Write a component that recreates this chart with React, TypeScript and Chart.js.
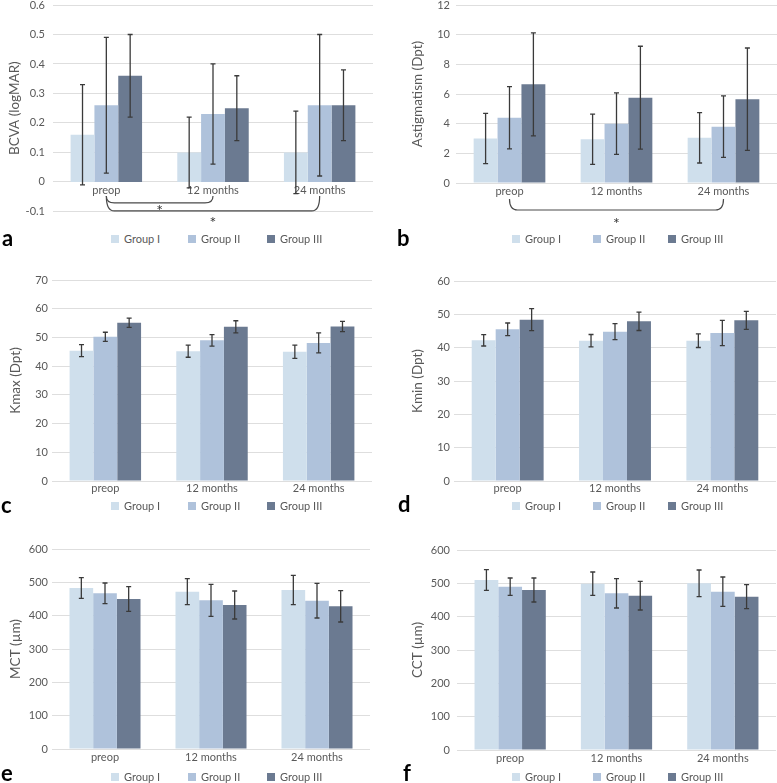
import React, { useEffect, useRef } from 'react';
import { Chart, registerables } from 'chart.js';

Chart.register(...registerables);

// ---------- data ----------
const categories = ['preop', '12 months', '24 months'];
const groups = ['Group I', 'Group II', 'Group III'];
const groupColors = ['#cfdfec', '#afc2db', '#6b7a91'];

// means[group][timepoint], sds[group][timepoint]
const bcvaMean = [[0.16, 0.10, 0.10], [0.26, 0.23, 0.26], [0.36, 0.25, 0.26]];
const bcvaSD = [[0.17, 0.12, 0.14], [0.23, 0.17, 0.24], [0.14, 0.11, 0.12]];
const bcvaAxis = [-0.1, 0.6, 0.1];
const bcvaBrackets = [[0, 1], [0, 2]];

const astigMean = [[3.0, 2.95, 3.05], [4.4, 4.0, 3.8], [6.65, 5.75, 5.65]];
const astigSD = [[1.7, 1.7, 1.7], [2.1, 2.07, 2.07], [3.47, 3.47, 3.45]];
const astigAxis = [0, 12, 2];
const astigBrackets = [[0, 2]];

const kmaxMean = [[45.4, 45.2, 45.0], [50.2, 49.0, 48.1], [55.1, 53.7, 53.8]];
const kmaxSD = [[2.1, 2.1, 2.3], [1.6, 2.0, 3.5], [1.6, 2.1, 1.8]];
const kmaxAxis = [0, 70, 10];

const kminMean = [[42.2, 42.1, 42.1], [45.5, 44.8, 44.4], [48.4, 47.9, 48.2]];
const kminSD = [[1.7, 1.85, 2.05], [1.9, 2.4, 3.8], [3.3, 2.75, 2.7]];
const kminAxis = [0, 60, 10];

const mctMean = [[483, 472, 477], [467, 446, 445], [450, 432, 428]];
const mctSD = [[31, 39, 44], [31, 48, 52], [37, 42, 47]];
const mctAxis = [0, 600, 100];

const cctMean = [[510, 499, 500], [490, 470, 475], [480, 463, 460]];
const cctSD = [[31, 35, 40], [26, 44, 44], [36, 43, 36]];
const cctAxis = [0, 600, 100];

// ---------- styling ----------
const FONT = 'Lato, "Open Sans", sans-serif';
const TEXT = '#595959';
const LEGEND_X_L = [111, 188, 267];
const LEGEND_X_R = [512, 593, 668];

type PanelCfg = {
  means: number[][];
  sds: number[][];
  axis: number[];
  decimals: number;
  title: string;
  side: 'L' | 'R';
  left: number;
  right: number;
  top: number;
  bottom: number;
  tickPad: number;
  titleX: number;
  catPad: number;
  xAtZero?: boolean;
  extraBottom?: number;
  brackets?: number[][];
  bracketGeom?: number[][]; // [hookOffset, lineOffset, starOffset] in px below base line
  legendY: number;
  letter: string;
  letterX: number;
  letterBaseline: number;
};

const panels: PanelCfg[] = [
  {
    means: bcvaMean, sds: bcvaSD, axis: bcvaAxis, decimals: 1, title: 'BCVA (logMAR)', side: 'L',
    left: 53, right: 373, top: 5, bottom: 212, tickPad: 8, titleX: 15, catPad: 2, xAtZero: true,
    extraBottom: 14,
    brackets: bcvaBrackets, bracketGeom: [[14, 21, 25.5], [14, 29, 37]],
    legendY: 239, letter: 'a', letterX: 2, letterBaseline: 246,
  },
  {
    means: astigMean, sds: astigSD, axis: astigAxis, decimals: 0, title: 'Astigmatism (Dpt)', side: 'R',
    left: 456, right: 777, top: 5, bottom: 183, tickPad: 6, titleX: 418, catPad: 2,
    extraBottom: 30,
    brackets: astigBrackets, bracketGeom: [[16, 27, 37]],
    legendY: 239, letter: 'b', letterX: 397, letterBaseline: 246,
  },
  {
    means: kmaxMean, sds: kmaxSD, axis: kmaxAxis, decimals: 0, title: 'Kmax (Dpt)', side: 'L',
    left: 52, right: 372, top: 280, bottom: 481, tickPad: 4, titleX: 16, catPad: 1,
    legendY: 506, letter: 'c', letterX: 1, letterBaseline: 513,
  },
  {
    means: kminMean, sds: kminSD, axis: kminAxis, decimals: 0, title: 'Kmin (Dpt)', side: 'R',
    left: 454, right: 776, top: 281, bottom: 481, tickPad: 4, titleX: 418, catPad: 1,
    legendY: 506, letter: 'd', letterX: 398, letterBaseline: 512,
  },
  {
    means: mctMean, sds: mctSD, axis: mctAxis, decimals: 0, title: 'MCT (µm)', side: 'L',
    left: 52, right: 370, top: 549, bottom: 749, tickPad: 4, titleX: 16, catPad: 2,
    legendY: 777, letter: 'e', letterX: 1, letterBaseline: 781,
  },
  {
    means: cctMean, sds: cctSD, axis: cctAxis, decimals: 0, title: 'CCT (µm)', side: 'R',
    left: 457, right: 776, top: 550, bottom: 750, tickPad: 7, titleX: 418, catPad: 2,
    legendY: 777, letter: 'f', letterX: 403, letterBaseline: 781,
  },
];

function geometry(cfg: PanelCfg) {
  const canvasLeft = cfg.side === 'L' ? 0 : 390;
  const canvasWidth = cfg.side === 'L' ? 390 : 387;
  const canvasTop = cfg.top - 15;
  const axisSpace = cfg.xAtZero ? 0 : 20;
  const extra = cfg.extraBottom ?? 0;
  const canvasHeight = cfg.bottom - canvasTop + axisSpace + extra;
  return { canvasLeft, canvasWidth, canvasTop, canvasHeight, extra };
}

function makeErrorPlugin(sds: number[][]) {
  return {
    id: 'errorBars',
    afterDatasetsDraw(chart: any) {
      const ctx = chart.ctx;
      const y = chart.scales.y;
      ctx.save();
      ctx.strokeStyle = '#3a3a3a';
      ctx.lineWidth = 1.3;
      chart.data.datasets.forEach((ds: any, i: number) => {
        const meta = chart.getDatasetMeta(i);
        meta.data.forEach((el: any, j: number) => {
          const v = ds.data[j] as number;
          const e = sds[i][j];
          const x = el.x;
          const yt = y.getPixelForValue(v + e);
          const yb = y.getPixelForValue(v - e);
          ctx.beginPath();
          ctx.moveTo(x, yt);
          ctx.lineTo(x, yb);
          ctx.moveTo(x - 2.5, yt);
          ctx.lineTo(x + 2.5, yt);
          ctx.moveTo(x - 2.5, yb);
          ctx.lineTo(x + 2.5, yb);
          ctx.stroke();
        });
      });
      ctx.restore();
    },
  };
}

function makeBracketPlugin(cfg: PanelCfg) {
  return {
    id: 'brackets',
    afterDraw(chart: any) {
      if (!cfg.brackets || !cfg.bracketGeom) return;
      const ctx = chart.ctx;
      const xs = chart.scales.x;
      const base = cfg.xAtZero ? chart.scales.y.getPixelForValue(0) : chart.chartArea.bottom;
      ctx.save();
      ctx.strokeStyle = '#4a4a4a';
      ctx.lineWidth = 1.2;
      ctx.fillStyle = '#333';
      ctx.font = `16px ${FONT}`;
      ctx.textAlign = 'center';
      ctx.textBaseline = 'alphabetic';
      cfg.brackets.forEach((b, k) => {
        const [hook, line, star] = cfg.bracketGeom![k];
        const x1 = xs.getPixelForValue(b[0]);
        const x2 = xs.getPixelForValue(b[1]);
        const yh = base + hook;
        const yl = base + line;
        const r = 8;
        ctx.beginPath();
        ctx.moveTo(x1, yh);
        ctx.quadraticCurveTo(x1, yl, x1 + r, yl);
        ctx.lineTo(x2 - r, yl);
        ctx.quadraticCurveTo(x2, yl, x2, yh);
        ctx.stroke();
        ctx.fillText('*', (x1 + x2) / 2, base + star + 9);
      });
      ctx.restore();
    },
  };
}

function Panel({ cfg }: { cfg: PanelCfg }) {
  const ref = useRef<HTMLCanvasElement>(null);
  const g = geometry(cfg);

  useEffect(() => {
    if (!ref.current) return;
    const [min, max, step] = cfg.axis;
    const titleFont = 13.5;
    const titlePad = cfg.titleX - g.canvasLeft - (titleFont * 1.2) / 2;
    const chart = new Chart(ref.current, {
      type: 'bar',
      data: {
        labels: categories,
        datasets: groups.map((label, i) => ({
          label,
          data: cfg.means[i],
          backgroundColor: groupColors[i],
          borderWidth: 0,
          categoryPercentage: 0.67,
          barPercentage: 1,
        })),
      },
      options: {
        responsive: false,
        animation: false,
        events: [],
        layout: {
          padding: {
            left: 0,
            right: g.canvasLeft + g.canvasWidth - cfg.right,
            top: 15,
            bottom: g.extra,
          },
        },
        plugins: { legend: { display: false }, tooltip: { enabled: false } },
        scales: {
          x: {
            position: cfg.xAtZero ? ({ y: 0 } as any) : 'bottom',
            grid: { display: false, drawTicks: false },
            border: { display: false },
            ticks: {
              color: TEXT,
              font: { family: FONT, size: 11 },
              padding: cfg.catPad,
              maxRotation: 0,
            },
            afterFit: cfg.xAtZero
              ? undefined
              : (s: any) => {
                  s.height = 20;
                },
          },
          y: {
            min,
            max,
            ticks: {
              stepSize: step,
              color: TEXT,
              font: { family: FONT, size: 11 },
              padding: cfg.tickPad,
              callback: (v: any) => {
                const r = Number(Number(v).toFixed(cfg.decimals));
                return r === 0 ? '0' : String(r);
              },
            },
            grid: { color: '#dedede', drawTicks: false, lineWidth: 1 },
            border: { display: false },
            title: {
              display: true,
              text: cfg.title,
              color: TEXT,
              font: { family: FONT, size: titleFont },
              padding: { top: titlePad, bottom: 0 },
            },
            afterFit: (s: any) => {
              s.width = cfg.left - g.canvasLeft;
            },
          },
        },
      },
      plugins: [makeErrorPlugin(cfg.sds), makeBracketPlugin(cfg)],
    });
    return () => chart.destroy();
  }, []);

  const legendXs = cfg.side === 'L' ? LEGEND_X_L : LEGEND_X_R;

  return (
    <>
      <canvas
        ref={ref}
        width={g.canvasWidth}
        height={g.canvasHeight}
        style={{
          position: 'absolute',
          left: g.canvasLeft,
          top: g.canvasTop,
          width: g.canvasWidth,
          height: g.canvasHeight,
        }}
      />
      {groups.map((label, i) => (
        <div
          key={label}
          style={{
            position: 'absolute',
            left: legendXs[i],
            top: cfg.legendY - 6,
            height: 12,
            display: 'flex',
            alignItems: 'center',
            fontFamily: FONT,
            fontSize: 11,
            lineHeight: '12px',
            color: TEXT,
            whiteSpace: 'nowrap',
          }}
        >
          <span
            style={{
              display: 'inline-block',
              width: 8,
              height: 8,
              background: groupColors[i],
              marginRight: 5,
            }}
          />
          {label}
        </div>
      ))}
      <div
        style={{
          position: 'absolute',
          left: cfg.letterX,
          top: cfg.letterBaseline - 19.5,
          fontFamily: FONT,
          fontWeight: 700,
          fontSize: 22,
          lineHeight: '22px',
          color: '#000',
        }}
      >
        {cfg.letter}
      </div>
    </>
  );
}

export default function App() {
  return (
    <div
      style={{
        position: 'absolute',
        left: 0,
        top: 0,
        width: 777,
        height: 783,
        background: '#fff',
        overflow: 'hidden',
      }}
    >
      {panels.map((p) => (
        <Panel key={p.letter} cfg={p} />
      ))}
    </div>
  );
}
